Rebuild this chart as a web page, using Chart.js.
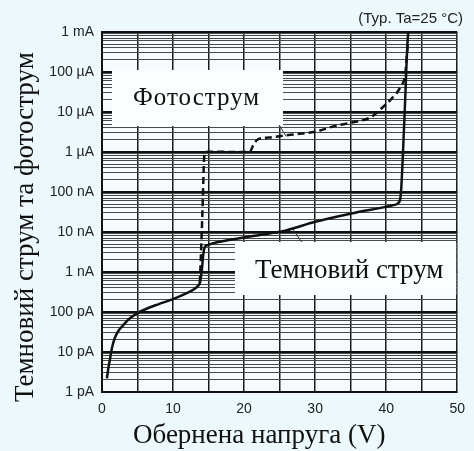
<!DOCTYPE html>
<html>
<head>
<meta charset="utf-8">
<script src="https://cdn.jsdelivr.net/npm/chart.js@4.4.1/dist/chart.umd.min.js"></script>
<style>
  html, body { margin: 0; padding: 0; background: #ecf8fb; }
  canvas { display: block; }
</style>
</head>
<body>
<canvas id="ivChart" width="474" height="451"></canvas>
<script>
// Dark current (solid line): reverse voltage (V) and current (A)
const darkVoltage = [0.69, 0.9, 1.1, 1.4, 1.8, 2.3, 3.0, 3.8, 5.0, 6.5, 8.0, 10.0, 12.0, 13.0, 13.5, 13.77, 14.05, 14.25, 14.46, 14.88, 15.56, 20.4, 25.9, 30.0, 35.5, 41.0, 41.7, 42.0, 42.15, 42.56, 43.1, 43.15];
const darkCurrent = [2.2e-12, 4.0e-12, 6.3e-12, 1.26e-11, 2.24e-11, 3.35e-11, 4.7e-11, 6.7e-11, 9.4e-11, 1.26e-10, 1.58e-10, 2.1e-10, 3.0e-10, 3.76e-10, 4.5e-10, 5.3e-10, 1.1e-9, 2.66e-9, 4.2e-9, 4.7e-9, 5.2e-9, 7.5e-9, 1.1e-8, 1.8e-8, 3.0e-8, 4.7e-8, 5.3e-8, 7.1e-8, 1.5e-7, 6.3e-6, 9.4e-4, 1.0e-3];

// Photocurrent (dashed line)
const photoVoltage = [13.77, 13.9, 14.05, 14.19, 14.33, 14.46, 14.9, 19.0, 20.8, 21.3, 22.0, 23.5, 25.9, 27.3, 30.0, 32.8, 35.5, 37.9, 39.4, 40.8, 42.0, 42.7, 42.85, 43.1];
const photoCurrent = [5.3e-10, 2.0e-9, 1.1e-8, 6.3e-8, 4.7e-7, 9.4e-7, 1.02e-6, 1.0e-6, 1.0e-6, 1.5e-6, 2.1e-6, 2.3e-6, 2.6e-6, 2.8e-6, 3.2e-6, 4.5e-6, 5.6e-6, 7.5e-6, 1.26e-5, 2.2e-5, 4.2e-5, 9.4e-5, 2.0e-4, 6.3e-4];

// leader lines from the label boxes to the curves
const photoLeaderV = [24.93, 25.9];
const photoLeaderI = [4.7e-6, 2.5e-6];
const darkLeaderV = [26.86, 28.1];
const darkLeaderI = [1.19e-8, 5.6e-9];

// axis ticks
const xTickLabels = ['0', '10', '20', '30', '40', '50'];
const yDecades = [-12, -11, -10, -9, -8, -7, -6, -5, -4, -3];
const yTickLabels = ['1 pA', '10 pA', '100 pA', '1 nA', '10 nA', '100 nA', '1 \u00b5A', '10 \u00b5A', '100 \u00b5A', '1 mA'];

const xTitle = 'Обернена напруга (V)';
const yTitle = 'Темновий струм та фотострум';
const photoLabel = 'Фотострум';
const darkLabel = 'Темновий струм';
const noteLabel = '(Typ. Ta=25 \u00b0C)';

function toPoints(xs, ys) {
  return xs.map((x, i) => ({ x: x, y: ys[i] }));
}

// all log ticks 1..9 per decade, the decade ones get labels
function buildLogTicks() {
  let ticks = [];
  for (let d = 0; d < yDecades.length - 1; d++) {
    for (let k = 1; k <= 9; k++) {
      ticks.push({ value: k * Math.pow(10, yDecades[d]) });
    }
  }
  ticks.push({ value: Math.pow(10, yDecades[yDecades.length - 1]) });
  return ticks;
}

const ink = '#111';

const backgroundPlugin = {
  id: 'plotBackground',
  beforeDraw(chart) {
    const { ctx, chartArea: a } = chart;
    ctx.save();
    ctx.fillStyle = '#ecf8fb';
    ctx.fillRect(0, 0, chart.width, chart.height);
    ctx.fillStyle = '#f6fcfd';
    ctx.fillRect(a.left, a.top, a.right - a.left, a.bottom - a.top);
    ctx.restore();
  }
};

const labelsPlugin = {
  id: 'labelBoxes',
  beforeDatasetsDraw(chart) {
    const { ctx, chartArea: a } = chart;
    ctx.save();
    ctx.fillStyle = '#fbfefe';
    // label boxes cover the grid
    ctx.fillRect(a.left + 10, a.top + 38, 171, 56);
    ctx.fillRect(a.left + 133, a.top + 210, a.right - a.left - 134, 53);

    ctx.fillStyle = ink;
    ctx.textBaseline = 'alphabetic';
    ctx.textAlign = 'left';
    ctx.font = '25px "Liberation Serif", "Times New Roman", serif';
    ctx.letterSpacing = '1px';
    ctx.fillText(photoLabel, 133, 105);
    ctx.letterSpacing = '0px';
    ctx.font = '27px "Liberation Serif", "Times New Roman", serif';
    ctx.fillText(darkLabel, 255, 278);

    // axis titles
    ctx.fillText(xTitle, 133, 443);
    ctx.save();
    ctx.translate(33, 402);
    ctx.rotate(-Math.PI / 2);
    ctx.fillText(yTitle, 0, 0);
    ctx.restore();

    ctx.font = '15px "Liberation Sans", Arial, sans-serif';
    ctx.textAlign = 'right';
    ctx.fillStyle = '#222';
    ctx.fillText(noteLabel, 463, 23);
    ctx.restore();
  }
};

const ivChart = new Chart(document.getElementById('ivChart'), {
  type: 'line',
  data: {
    datasets: [
      {
        label: 'dark',
        data: toPoints(darkVoltage, darkCurrent),
        borderColor: ink,
        borderWidth: 2.5,
        pointRadius: 0,
        cubicInterpolationMode: 'monotone',
        fill: false
      },
      {
        label: 'photo',
        data: toPoints(photoVoltage, photoCurrent),
        borderColor: ink,
        borderWidth: 2.5,
        borderDash: [7, 4],
        pointRadius: 0,
        cubicInterpolationMode: 'monotone',
        fill: false
      },
      {
        label: 'photoLeader',
        data: toPoints(photoLeaderV, photoLeaderI),
        borderColor: '#333',
        borderWidth: 1,
        pointRadius: 0,
        fill: false
      },
      {
        label: 'darkLeader',
        data: toPoints(darkLeaderV, darkLeaderI),
        borderColor: '#333',
        borderWidth: 1,
        pointRadius: 0,
        fill: false
      }
    ]
  },
  options: {
    responsive: false,
    animation: false,
    devicePixelRatio: 1,
    layout: { padding: { top: 32, right: 9, left: 0, bottom: 0 } },
    plugins: {
      legend: { display: false },
      tooltip: { enabled: false }
    },
    scales: {
      x: {
        type: 'linear',
        min: 0,
        max: 50,
        afterFit: scale => { scale.height = 59; },
        ticks: {
          stepSize: 5,
          autoSkip: false,
          maxRotation: 0,
          padding: 9,
          color: '#222',
          font: { family: '"Liberation Sans", Arial, sans-serif', size: 14 },
          callback: v => (v % 10 === 0 ? xTickLabels[v / 10] : '')
        },
        grid: { color: '#1a1a1a', lineWidth: 1.5, drawTicks: false },
        border: { display: true, color: ink, width: 2 }
      },
      y: {
        type: 'logarithmic',
        min: 1e-12,
        max: 1e-3,
        afterFit: scale => { scale.width = 102; },
        afterBuildTicks: scale => { scale.ticks = buildLogTicks(); },
        ticks: {
          autoSkip: false,
          padding: 8,
          color: '#222',
          font: { family: '"Liberation Sans", Arial, sans-serif', size: 14 },
          callback: (v, i) => (i % 9 === 0 ? yTickLabels[i / 9] : '')
        },
        grid: {
          drawTicks: false,
          color: ctx => (ctx.index % 9 === 0 ? '#111' : '#4a4a4a'),
          lineWidth: ctx => (ctx.index % 9 === 0 ? 2 : 1)
        },
        border: { display: true, color: ink, width: 2 }
      }
    }
  },
  plugins: [backgroundPlugin, labelsPlugin]
});
</script>
</body>
</html>
